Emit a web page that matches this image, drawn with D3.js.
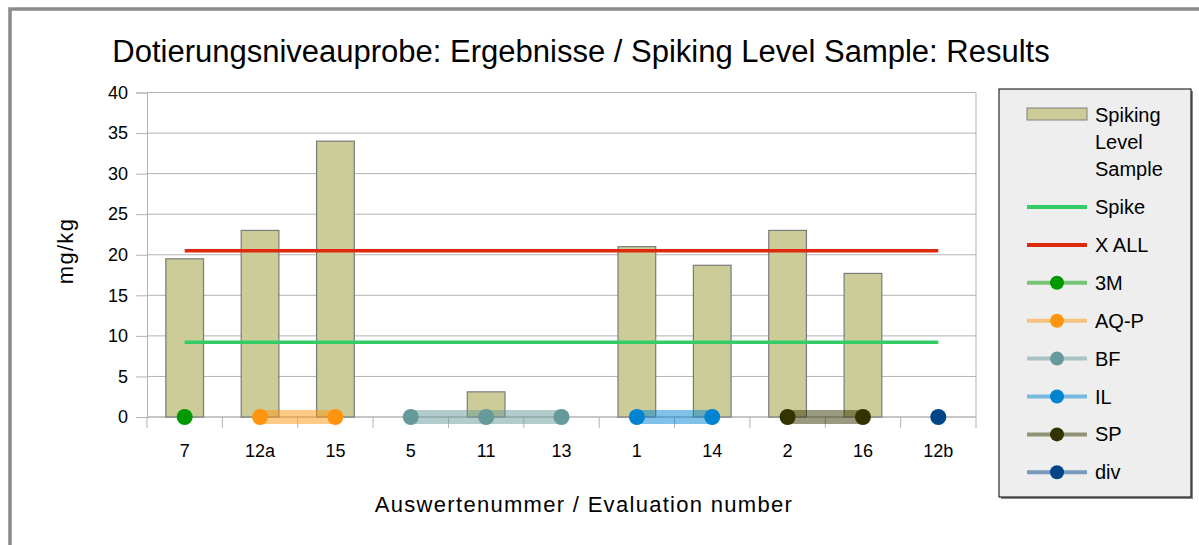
<!DOCTYPE html>
<html>
<head>
<meta charset="utf-8">
<script src="https://cdn.jsdelivr.net/npm/d3@7"></script>
<style>
  body { margin: 0; background: #fff; }
  svg { display: block; font-family: "Liberation Sans", Arial, sans-serif; }
</style>
</head>
<body>
<div id="chartDiv"></div>
<script>
// categories (evaluation numbers)
var categories = ["7", "12a", "15", "5", "11", "13", "1", "14", "2", "16", "12b"];
// Spiking Level Sample bars (mg/kg), null = no value
var sampleValues = [19.5, 23.0, 34.0, null, 3.1, null, 21.0, 18.7, 23.0, 17.7, null];
var spikeValues  = [9.2, 9.2, 9.2, 9.2, 9.2, 9.2, 9.2, 9.2, 9.2, 9.2, 9.2];
var xAllValues   = [20.5, 20.5, 20.5, 20.5, 20.5, 20.5, 20.5, 20.5, 20.5, 20.5, 20.5];
// method groups, plotted at 0
var v3M   = [0, null, null, null, null, null, null, null, null, null, null];
var vAQP  = [null, 0, 0, null, null, null, null, null, null, null, null];
var vBF   = [null, null, null, 0, 0, 0, null, null, null, null, null];
var vIL   = [null, null, null, null, null, null, 0, 0, null, null, null];
var vSP   = [null, null, null, null, null, null, null, null, 0, 0, null];
var vDiv  = [null, null, null, null, null, null, null, null, null, null, 0];
var yTicks = [0, 5, 10, 15, 20, 25, 30, 35, 40];

var groups = [
    {name: "3M",   values: v3M,  color: "#009900"},
    {name: "AQ-P", values: vAQP, color: "#ff950e"},
    {name: "BF",   values: vBF,  color: "#669999"},
    {name: "IL",   values: vIL,  color: "#0084d1"},
    {name: "SP",   values: vSP,  color: "#333300"},
    {name: "div",  values: vDiv, color: "#004586"}
];

var W = 1199, H = 545;
var margin = {top: 92.5, left: 147, right: 976, bottom: 417};

var svg = d3.select("#chartDiv").append("svg")
    .attr("width", W).attr("height", H);

// outer frame
svg.append("rect")
    .attr("x", 10).attr("y", 9)
    .attr("width", 1300).attr("height", 700)
    .attr("fill", "none").attr("stroke", "#8a8a8a").attr("stroke-width", 3.5);

var x = d3.scaleBand().domain(categories).range([margin.left, margin.right]).padding(0);
var y = d3.scaleLinear().domain([0, 40]).range([margin.bottom, margin.top]);

// gridlines
svg.append("g").selectAll("line")
    .data(yTicks).enter().append("line")
    .attr("x1", margin.left).attr("x2", margin.right)
    .attr("y1", d => y(d)).attr("y2", d => y(d))
    .attr("stroke", "#b3b3b3").attr("stroke-width", 1);

svg.append("line")
    .attr("x1", margin.right).attr("x2", margin.right)
    .attr("y1", margin.top).attr("y2", margin.bottom)
    .attr("stroke", "#b3b3b3");

// y axis
var yAxis = svg.append("g")
    .attr("transform", "translate(" + margin.left + ",0)")
    .call(d3.axisLeft(y).tickValues(yTicks).tickSize(11).tickPadding(8));
yAxis.select(".domain").attr("stroke", "#b3b3b3");
yAxis.selectAll(".tick line").attr("stroke", "#b3b3b3");
yAxis.selectAll("text").attr("font-size", 18).attr("fill", "#000")
    .attr("font-family", "Liberation Sans, Arial, sans-serif");

// x axis: ticks at band boundaries
var bounds = categories.map(c => x(c)).concat([margin.right]);
svg.append("g").selectAll("line")
    .data(bounds).enter().append("line")
    .attr("x1", d => d).attr("x2", d => d)
    .attr("y1", margin.bottom).attr("y2", margin.bottom + 11)
    .attr("stroke", "#b3b3b3");
svg.append("line")
    .attr("x1", margin.left).attr("x2", margin.right)
    .attr("y1", margin.bottom).attr("y2", margin.bottom)
    .attr("stroke", "#b3b3b3");
svg.append("g").selectAll("text")
    .data(categories).enter().append("text")
    .attr("x", d => x(d) + x.bandwidth() / 2)
    .attr("y", 457)
    .attr("text-anchor", "middle")
    .attr("font-size", 18)
    .text(d => d);

// bars
var bw = x.bandwidth() * 0.5;
svg.append("g").selectAll("rect")
    .data(categories.map((c, i) => ({cat: c, v: sampleValues[i]})).filter(d => d.v != null))
    .enter().append("rect")
    .attr("x", d => x(d.cat) + x.bandwidth() / 2 - bw / 2)
    .attr("y", d => y(d.v))
    .attr("width", bw)
    .attr("height", d => y(0) - y(d.v))
    .attr("fill", "#cccc99")
    .attr("stroke", "#7a7a7a")
    .attr("stroke-width", 1.2);

var line = d3.line()
    .defined(d => d.v != null)
    .x(d => x(d.cat) + x.bandwidth() / 2)
    .y(d => y(d.v));

function pts(vals) {
    return categories.map((c, i) => ({cat: c, v: vals[i]}));
}

svg.append("path").datum(pts(spikeValues))
    .attr("d", line).attr("fill", "none")
    .attr("stroke", "#33cc66").attr("stroke-width", 3.5);
svg.append("path").datum(pts(xAllValues))
    .attr("d", line).attr("fill", "none")
    .attr("stroke", "#dd2a0c").attr("stroke-width", 3.5);

// group lines
groups.forEach(function(g) {
    svg.append("path").datum(pts(g.values))
        .attr("d", line).attr("fill", "none")
        .attr("stroke", g.color).attr("stroke-opacity", 0.5)
        .attr("stroke-width", 14);
});
groups.forEach(function(g) {
    svg.append("g").selectAll("circle")
        .data(pts(g.values).filter(d => d.v != null))
        .enter().append("circle")
        .attr("cx", d => x(d.cat) + x.bandwidth() / 2)
        .attr("cy", d => y(d.v))
        .attr("r", 8)
        .attr("fill", g.color);
});

// titles
svg.append("text")
    .attr("x", 581).attr("y", 62)
    .attr("text-anchor", "middle")
    .attr("font-size", 31)
    .text("Dotierungsniveauprobe: Ergebnisse / Spiking Level Sample: Results");

svg.append("text")
    .attr("x", 584).attr("y", 512)
    .attr("text-anchor", "middle")
    .attr("font-size", 22)
    .attr("letter-spacing", 1.3)
    .text("Auswertenummer / Evaluation number");

svg.append("text")
    .attr("transform", "translate(73,251) rotate(-90)")
    .attr("text-anchor", "middle")
    .attr("font-size", 22)
    .attr("letter-spacing", 1.3)
    .text("mg/kg");

// legend
var lg = svg.append("g");
lg.append("rect")
    .attr("x", 1001).attr("y", 91)
    .attr("width", 192).attr("height", 408)
    .attr("fill", "#888");
lg.append("rect")
    .attr("x", 999).attr("y", 89)
    .attr("width", 192).attr("height", 408)
    .attr("fill", "#eeeeee").attr("stroke", "#000").attr("stroke-width", 1);

lg.append("rect")
    .attr("x", 1027).attr("y", 108)
    .attr("width", 60).attr("height", 12)
    .attr("fill", "#cccc99").attr("stroke", "#808080");
["Spiking", "Level", "Sample"].forEach(function(t, i) {
    lg.append("text")
        .attr("x", 1095).attr("y", 122 + i * 27)
        .attr("font-size", 20).text(t);
});

var legendItems = [
    {name: "Spike", color: "#33cc66", op: 1, marker: false},
    {name: "X ALL", color: "#dd2a0c", op: 1, marker: false}
].concat(groups.map(g => ({name: g.name, color: g.color, op: 0.5, marker: true})));

legendItems.forEach(function(it, i) {
    var cy = 207 + i * 37.9;
    lg.append("line")
        .attr("x1", 1027).attr("x2", 1087)
        .attr("y1", cy).attr("y2", cy)
        .attr("stroke", it.color).attr("stroke-opacity", it.op)
        .attr("stroke-width", 4);
    if (it.marker) {
        lg.append("circle")
            .attr("cx", 1057).attr("cy", cy).attr("r", 7)
            .attr("fill", it.color);
    }
    lg.append("text")
        .attr("x", 1095).attr("y", cy + 7)
        .attr("font-size", 20).text(it.name);
});
</script>
</body>
</html>
